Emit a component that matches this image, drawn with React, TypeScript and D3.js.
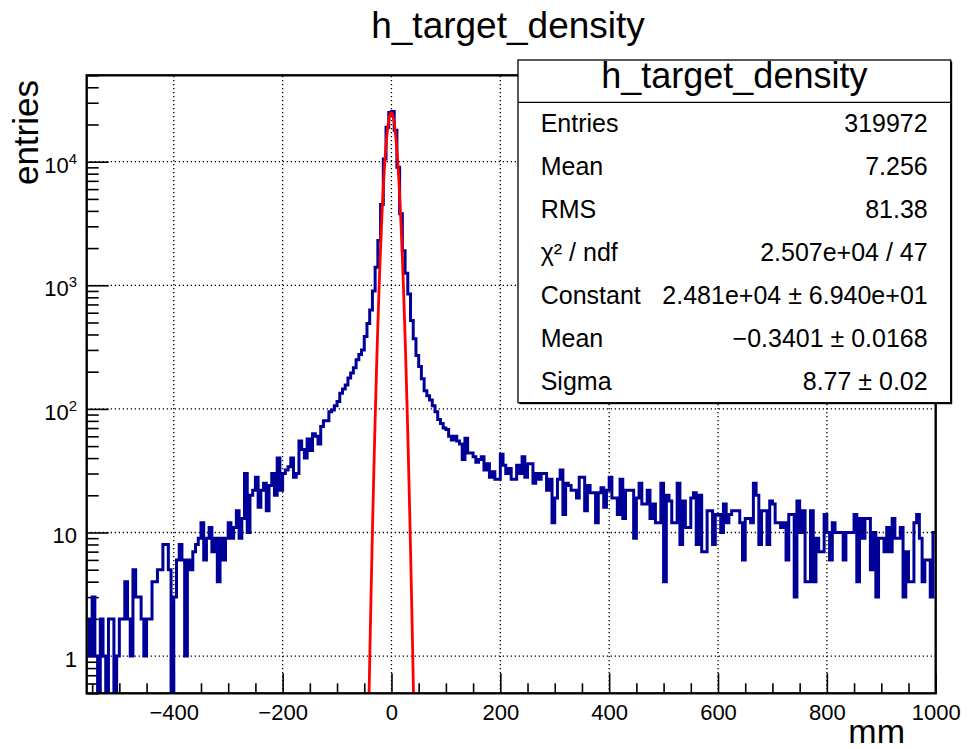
import React, { useEffect, useRef } from 'react';
import * as d3 from 'd3';

// h_target_density: 312 bins of 5 mm, from -560 to 1000 mm
const xLow = -560;
const xHigh = 1000;
const binWidth = 5;

const counts = [
  2, 1, 3, 1, 0, 2, 1, 0, 2, 2,
  0, 1, 2, 2, 4, 2, 1, 5, 3, 3,
  2, 1, 2, 2, 4, 4, 5, 5, 8, 8,
  5, 0, 3, 6, 8, 6, 1, 6, 5, 7,
  8, 9, 12, 6, 9, 11, 7, 9, 4, 9,
  6, 9, 12, 9, 11, 15, 9, 13, 30, 10,
  20, 22, 28, 16, 22, 25, 15, 24, 30, 20,
  40, 22, 30, 32, 34, 40, 28, 30, 55, 47,
  40, 57, 46, 63, 60, 52, 72, 80, 80, 95,
  98, 106, 115, 134, 145, 156, 178, 195, 215, 250,
  275, 300, 385, 490, 630, 900, 1400, 2300, 4500, 10500,
  19000, 25000, 25500, 18000, 9000, 3800, 1900, 1250, 850, 520,
  370, 270, 220, 175, 140, 128, 118, 106, 95, 82,
  76, 70, 68, 60, 56, 60, 55, 52, 39, 58,
  44, 44, 41, 37, 39, 41, 32, 36, 28, 31,
  27, 27, 43, 35, 30, 33, 27, 27, 35, 30,
  41, 28, 36, 36, 25, 30, 27, 30, 30, 22,
  27, 12, 19, 27, 32, 14, 25, 24, 22, 22,
  19, 28, 28, 15, 24, 21, 21, 12, 21, 23,
  16, 22, 28, 19, 19, 14, 27, 13, 22, 22,
  22, 9, 19, 25, 17, 17, 22, 13, 17, 12,
  12, 25, 4, 20, 18, 12, 12, 25, 8, 18,
  11, 11, 19, 21, 8, 20, 7, 7, 15, 15,
  8, 14, 14, 10, 17, 12, 14, 15, 15, 15,
  12, 6, 13, 13, 12, 25, 20, 8, 15, 15,
  8, 18, 17, 12, 12, 11, 12, 6, 14, 14,
  3, 18, 10, 15, 4, 4, 15, 4, 9, 7,
  7, 14, 10, 6, 12, 10, 10, 10, 6, 10,
  10, 10, 14, 4, 13, 9, 13, 13, 5, 10,
  3, 9, 9, 7, 11, 7, 13, 9, 9, 11,
  3, 7, 4, 4, 12, 14, 9, 4, 6, 6,
  3, 10,
];

// gaussian fit, parameters from the stats box
const fitConstant = 2.481e4;
const fitMean = -0.3401;
const fitSigma = 8.77;

const xMajorTicks = [-400, -200, 0, 200, 400, 600, 800, 1000];
const yDecades = [1, 10, 100, 1000, 10000];
const yLabelBase = ['1', '10', '10', '10', '10'];
const yLabelExp = ['', '', '2', '3', '4'];

const title = 'h_target_density';
const xTitle = 'mm';
const yTitle = 'entries';

const statLabels = ['Entries', 'Mean', 'RMS', 'χ² / ndf', 'Constant', 'Mean', 'Sigma'];
const statValues = [
  '319972',
  '7.256',
  '81.38',
  '2.507e+04 / 47',
  '2.481e+04 ± 6.940e+01',
  '\u22120.3401 ± 0.0168',
  '8.77 ± 0.02',
];

const FONT = "'Liberation Sans', Arial, Helvetica, sans-serif";

export default function App() {
  const ref = useRef<SVGSVGElement>(null);

  useEffect(() => {
    const svg = d3.select(ref.current);
    svg.selectAll('*').remove();

    const frame = { left: 86.7, right: 935.7, top: 75.3, bottom: 693.3 };

    const x = d3.scaleLinear().domain([xLow, xHigh]).range([frame.left, frame.right]);
    const y = d3.scaleLog().domain([0.5, 5e4]).range([frame.bottom, frame.top]);

    svg.append('rect').attr('width', 970).attr('height', 749).attr('fill', '#fff');

    svg.append('defs').append('clipPath').attr('id', 'plotclip')
      .append('rect')
      .attr('x', frame.left).attr('y', frame.top)
      .attr('width', frame.right - frame.left).attr('height', frame.bottom - frame.top);

    // grid
    const grid = svg.append('g')
      .attr('stroke', '#000')
      .attr('stroke-width', 1.3)
      .attr('stroke-dasharray', '1.3,2.7');
    grid.selectAll('line.gx')
      .data(xMajorTicks.filter(t => t > xLow && t < xHigh))
      .join('line')
      .attr('x1', d => x(d)).attr('x2', d => x(d))
      .attr('y1', frame.bottom).attr('y2', frame.top);
    grid.selectAll('line.gy')
      .data(yDecades)
      .join('line')
      .attr('x1', frame.left).attr('x2', frame.right)
      .attr('y1', d => y(d)).attr('y2', d => y(d));

    // x axis ticks (pointing inward)
    const xMinor = d3.range(-550, xHigh + 1, 50).filter(t => !xMajorTicks.includes(t));
    const xAxis = svg.append('g')
      .attr('transform', `translate(0, ${frame.bottom})`)
      .call(d3.axisBottom(x).tickValues(xMajorTicks).tickSize(-20).tickPadding(11)
        .tickFormat(d3.format('d')));
    xAxis.select('.domain').remove();
    xAxis.selectAll('line').attr('stroke-width', 1.6);
    xAxis.selectAll('text')
      .attr('font-family', FONT).attr('font-size', 22).attr('fill', '#000');

    const xAxisMinor = svg.append('g')
      .attr('transform', `translate(0, ${frame.bottom})`)
      .call(d3.axisBottom(x).tickValues(xMinor).tickSize(-10).tickFormat(() => ''));
    xAxisMinor.select('.domain').remove();
    xAxisMinor.selectAll('line').attr('stroke-width', 1.6);

    // y axis ticks
    const yMinor: number[] = [];
    [0.1, 1, 10, 100, 1000, 10000].forEach(dec => {
      for (let m = 2; m <= 9; m++) {
        const v = m * dec;
        if (v >= 0.5 && v <= 5e4) yMinor.push(v);
      }
    });
    const yAxis = svg.append('g')
      .attr('transform', `translate(${frame.left}, 0)`)
      .call(d3.axisLeft(y).tickValues(yDecades).tickSize(-22).tickFormat(() => ''));
    yAxis.select('.domain').remove();
    yAxis.selectAll('line').attr('stroke-width', 1.6);
    const yAxisMinor = svg.append('g')
      .attr('transform', `translate(${frame.left}, 0)`)
      .call(d3.axisLeft(y).tickValues(yMinor).tickSize(-12).tickFormat(() => ''));
    yAxisMinor.select('.domain').remove();
    yAxisMinor.selectAll('line').attr('stroke-width', 1.6);

    // y tick labels with exponents
    yDecades.forEach((d, i) => {
      const t = svg.append('text')
        .attr('x', 77)
        .attr('y', y(d) + 11)
        .attr('text-anchor', 'end')
        .attr('font-family', FONT)
        .attr('font-size', 22);
      t.append('tspan').text(yLabelBase[i]);
      if (yLabelExp[i]) {
        t.append('tspan')
          .attr('dy', -9)
          .attr('font-size', 15)
          .text(yLabelExp[i]);
      }
    });

    // histogram outline
    const pts: [number, number][] = counts.map((c, i) => [xLow + i * binWidth, c]);
    pts.push([xHigh, counts[counts.length - 1]]);
    const histLine = d3.line<[number, number]>()
      .x(d => x(d[0]))
      .y(d => (d[1] > 0 ? y(d[1]) : frame.bottom + 10))
      .curve(d3.curveStepAfter);
    svg.append('path')
      .datum(pts)
      .attr('d', histLine)
      .attr('clip-path', 'url(#plotclip)')
      .attr('fill', 'none')
      .attr('stroke', '#000099')
      .attr('stroke-width', 3);

    // fit curve
    const fitX = d3.range(-60, 60.01, 0.5);
    const fitLine = d3.line<number>()
      .x(d => x(d))
      .y(d => {
        const v = fitConstant * Math.exp(-0.5 * ((d - fitMean) / fitSigma) ** 2);
        return v > 0.05 ? y(v) : frame.bottom + 50;
      });
    svg.append('path')
      .datum(fitX)
      .attr('d', fitLine)
      .attr('clip-path', 'url(#plotclip)')
      .attr('fill', 'none')
      .attr('stroke', '#ff0000')
      .attr('stroke-width', 2.8);

    // frame
    svg.append('rect')
      .attr('x', frame.left).attr('y', frame.top)
      .attr('width', frame.right - frame.left).attr('height', frame.bottom - frame.top)
      .attr('fill', 'none')
      .attr('stroke', '#000')
      .attr('stroke-width', 2.4);

    // titles
    svg.append('text')
      .attr('x', 508).attr('y', 38)
      .attr('text-anchor', 'middle')
      .attr('font-family', FONT).attr('font-size', 37)
      .text(title);

    svg.append('text')
      .attr('x', 905).attr('y', 743)
      .attr('text-anchor', 'end')
      .attr('font-family', FONT).attr('font-size', 34)
      .text(xTitle);

    svg.append('text')
      .attr('transform', 'translate(38, 80) rotate(-90)')
      .attr('text-anchor', 'end')
      .attr('font-family', FONT).attr('font-size', 35)
      .text(yTitle);

    // stats box
    const box = { x: 518, y: 60, w: 432.7, h: 342.7 };
    svg.append('rect')
      .attr('x', box.x + 1.5).attr('y', box.y + 1.5)
      .attr('width', box.w).attr('height', box.h)
      .attr('fill', '#000');
    svg.append('rect')
      .attr('x', box.x).attr('y', box.y)
      .attr('width', box.w).attr('height', box.h)
      .attr('fill', '#fff')
      .attr('stroke', '#000')
      .attr('stroke-width', 1.3);
    svg.append('line')
      .attr('x1', box.x).attr('x2', box.x + box.w)
      .attr('y1', 102.3).attr('y2', 102.3)
      .attr('stroke', '#000').attr('stroke-width', 1.3);
    svg.append('text')
      .attr('x', box.x + box.w / 2).attr('y', 88)
      .attr('text-anchor', 'middle')
      .attr('font-family', FONT).attr('font-size', 36)
      .text(title);

    const rowY = (i: number) => 131.7 + i * 43.05;
    svg.append('g').selectAll('text')
      .data(statLabels)
      .join('text')
      .attr('x', 540.7).attr('y', (_, i) => rowY(i))
      .attr('font-family', FONT).attr('font-size', 25)
      .text(d => d);
    svg.append('g').selectAll('text')
      .data(statValues)
      .join('text')
      .attr('x', 927.7).attr('y', (_, i) => rowY(i))
      .attr('text-anchor', 'end')
      .attr('font-family', FONT).attr('font-size', 25)
      .text(d => d);
  }, []);

  return (
    <svg
      ref={ref}
      width={970}
      height={749}
      style={{ position: 'absolute', left: 0, top: 0, display: 'block' }}
    />
  );
}
